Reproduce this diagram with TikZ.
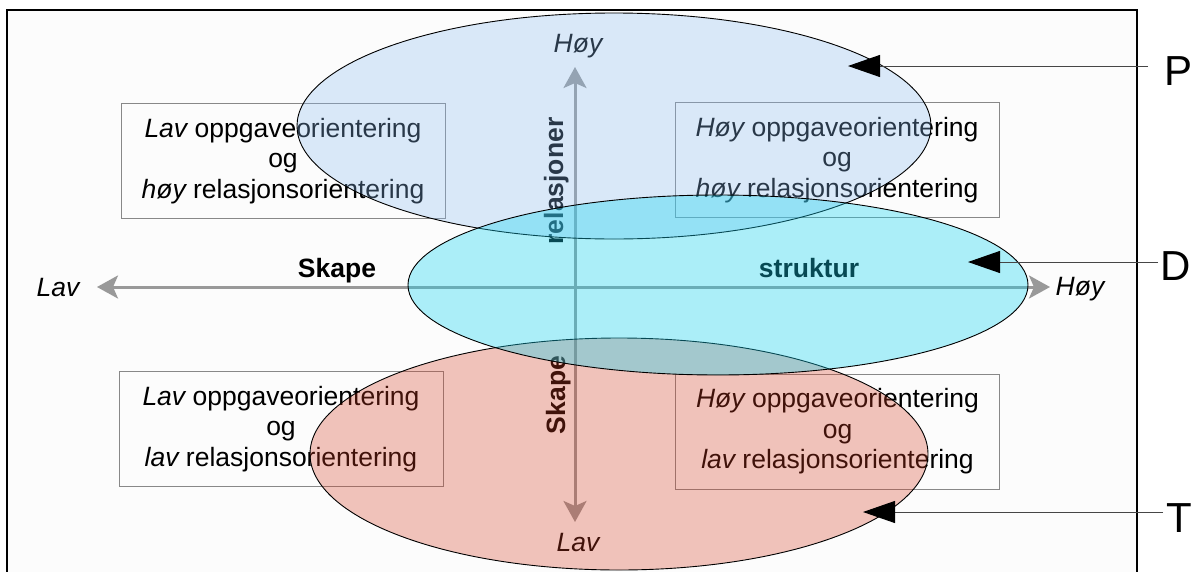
\documentclass[tikz,border=0pt]{standalone}
\usepackage{fontspec}
\setmainfont{Liberation Sans}
\usetikzlibrary{arrows.meta}
\definecolor{Pfill}{RGB}{138,188,242}
\definecolor{Dfill}{RGB}{21,212,241}
\definecolor{Tfill}{RGB}{215,62,35}
\definecolor{axisgray}{RGB}{153,153,153}
\definecolor{boxgray}{RGB}{136,136,136}
\definecolor{linegray}{RGB}{70,70,70}
\definecolor{framebg}{RGB}{252,252,252}
\begin{document}
\begin{tikzpicture}[x=1pt,y=-1pt,
  quad/.style={draw=boxgray, line width=0.9pt, minimum width=324pt, minimum height=115pt, align=center, font=\fontsize{26.5}{30.5}\selectfont, inner sep=0pt},
  axis/.style={draw=axisgray, line width=3pt, arrows={Stealth[length=21pt,width=23pt,inset=5pt]-Stealth[length=21pt,width=23pt,inset=5pt]}},
  axlab/.style={font=\fontsize{26.5}{30}\selectfont\itshape, anchor=base, inner sep=0pt},
  boldlab/.style={font=\fontsize{26.5}{30}\selectfont\bfseries, anchor=base, inner sep=0pt},
  blob/.style={draw=black, line width=0.9pt},
  letter/.style={font=\fontsize{42}{48}\selectfont, anchor=base west, inner sep=0pt},
  pointer/.style={draw=linegray, line width=1pt, -{Triangle[length=32pt,width=22pt,color=black]}}
]
\useasboundingbox (0,0) rectangle (1203,571);
\clip (0,0) rectangle (1203,571);
\draw[line width=1.5pt, fill=framebg] (7,10) rectangle (1137,600);

% quadrant boxes
\node[quad] (q1) at (283,161) {{\itshape Lav} oppgaveorientering\\og\\{\itshape høy} relasjonsorientering};
\node[quad] (q2) at (837,160) {{\itshape Høy} oppgaveorientering\\og\\{\itshape høy} relasjonsorientering};
\node[quad] (q3) at (281,429) {{\itshape Lav} oppgaveorientering\\og\\{\itshape lav} relasjonsorientering};
\node[quad] (q4) at (837.5,431.5) {{\itshape Høy} oppgaveorientering\\og\\{\itshape lav} relasjonsorientering};

% axes
\coordinate (hl) at (97,287);
\coordinate (hr) at (1050,287);
\coordinate (vt) at (575,67);
\coordinate (vb) at (575,522);
\draw[axis] (hl) -- (hr);
\draw[axis] (vb) -- (vt);

% axis labels
\node[axlab] (lavl) at (58,296) {Lav};
\node[axlab] (hoyr) at (1080,295) {Høy};
\node[axlab] (hoyt) at (578,52) {Høy};
\node[axlab] (lavb) at (578,551) {Lav};
\node[boldlab] (skh) at (337,277) {Skape};
\node[boldlab] (str) at (809,277) {struktur};
\node[boldlab, rotate=90] (rel) at (563,181) {relasjoner};
\node[boldlab, rotate=90] (skv) at (565,395) {Skape};

% ellipses
\path[blob, fill=Tfill, fill opacity=0.3] (619,454) ellipse [x radius=309pt, y radius=116pt];
\path[blob, fill=Pfill, fill opacity=0.3] (614,126) ellipse [x radius=317pt, y radius=113pt];
\path[blob, fill=Dfill, fill opacity=0.35] (718,285) ellipse [x radius=310pt, y radius=90pt];

% pointers
\node[letter] (Pl) at (1164,85) {P};
\node[letter] (Dl) at (1160,280) {D};
\node[letter] (Tl) at (1166,532) {T};
\coordinate (Ptip) at (848,66);
\coordinate (Dtip) at (968,262);
\coordinate (Ttip) at (863,512);
\draw[pointer, shorten <=16pt] (Pl.west |- Ptip) -- (Ptip);
\draw[pointer, shorten <=2pt] (Dl.west |- Dtip) -- (Dtip);
\draw[pointer, shorten <=3pt] (Tl.west |- Ttip) -- (Ttip);
\end{tikzpicture}
\end{document}
